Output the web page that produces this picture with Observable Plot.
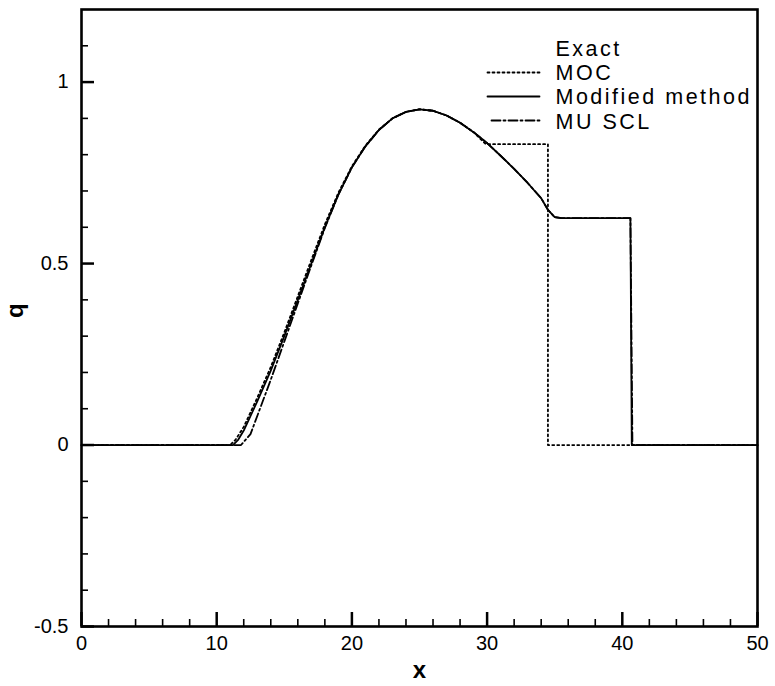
<!DOCTYPE html>
<html><head><meta charset="utf-8">
<script src="https://cdn.jsdelivr.net/npm/d3@7"></script>
<script src="https://cdn.jsdelivr.net/npm/@observablehq/plot@0.6"></script>
<style>
body{margin:0;background:#fff}
</style>
</head><body><div id="chart"></div>
<script>
// ---- tick definitions ----
const xMajorTicks = [0, 10, 20, 30, 40, 50];
const xMinorTicks = [2, 4, 6, 8, 12, 14, 16, 18, 22, 24, 26, 28, 32, 34, 36, 38, 42, 44, 46, 48];
const yMajorTicks = [-0.5, 0, 0.5, 1];
const yMinorTicks = [-0.4, -0.3, -0.2, -0.1, 0.1, 0.2, 0.3, 0.4, 0.6, 0.7, 0.8, 0.9, 1.1];

// ---- series ----
const mocX = [0, 11.0, 11.4, 12, 13, 14, 15, 16, 17, 18, 19, 20, 21, 22, 23, 24, 25, 26, 27, 28, 29, 29.9, 34.5, 34.5, 50];
const mocQ = [0, 0, 0.015, 0.05, 0.13, 0.215, 0.31, 0.41, 0.51, 0.608, 0.695, 0.768, 0.825, 0.869, 0.9, 0.918, 0.925, 0.921, 0.908, 0.888, 0.862, 0.829, 0.829, 0, 0];

const modifiedX = [0, 11.2, 11.6, 12, 13, 14, 15, 16, 17, 18, 19, 20, 21, 22, 23, 24, 25, 26, 27, 28, 29, 30, 31, 32, 33, 34, 34.5, 35, 35.5, 40.6, 40.7, 50];
const modifiedQ = [0, 0, 0.015, 0.04, 0.12, 0.205, 0.3, 0.4, 0.5, 0.6, 0.69, 0.765, 0.823, 0.868, 0.9, 0.918, 0.925, 0.921, 0.908, 0.888, 0.862, 0.832, 0.797, 0.761, 0.722, 0.68, 0.648, 0.628, 0.625, 0.625, 0, 0];

const musclX = [0, 11.8, 12.5, 13, 14, 15, 16, 17, 18, 19, 20, 21, 22, 23, 24, 25, 26, 27, 28, 29, 30, 31, 32, 33, 34, 34.5, 35, 35.5, 40.6, 40.75, 50];
const musclQ = [0, 0, 0.03, 0.08, 0.18, 0.285, 0.39, 0.495, 0.598, 0.69, 0.765, 0.823, 0.868, 0.9, 0.918, 0.925, 0.921, 0.908, 0.888, 0.862, 0.832, 0.797, 0.761, 0.722, 0.68, 0.648, 0.628, 0.625, 0.625, 0, 0];

// ---- legend ----
const legendLabels = ["Exact", "MOC", "Modified method", "MU SCL"];
const legendDash = [null, "2,3", null, "9,3,2,3"];

const FONT = "'Liberation Sans', Arial, Helvetica, sans-serif";
const mL = 81, mT = 9;
const hLine = {draw(ctx, l) { ctx.moveTo(0, 0); ctx.lineTo(l, 0); }};

const legendMarks = [];
legendLabels.forEach((lab, i) => {
  legendMarks.push(Plot.text([lab], {
    text: d => d, frameAnchor: "top-left", dx: 555 - mL, dy: 55 + i * 24.4 - mT,
    textAnchor: "start", lineAnchor: "bottom", fontSize: 21.5, fill: "#000"
  }));
  if (i > 0) {
    legendMarks.push(Plot.vector([lab], {
      frameAnchor: "top-left", dx: (i === 3 ? 491 : 487) - mL, dy: 48 + i * 24 - mT,
      length: i === 3 ? 48 : 52, anchor: "start", rotate: 0, shape: hLine,
      stroke: "#000", strokeWidth: 1.8, strokeDasharray: legendDash[i]
    }));
  }
});

const chart = Plot.plot({
  width: 775, height: 686,
  marginLeft: mL, marginRight: 18, marginTop: mT, marginBottom: 60,
  style: {fontFamily: FONT, background: "#fff", color: "#000", overflow: "visible"},
  x: {domain: [0, 50]},
  y: {domain: [-0.5, 1.2]},
  marks: [
    Plot.line(mocQ, {x: mocX, y: mocQ, stroke: "#000", strokeWidth: 1.8, strokeDasharray: "2,3"}),
    Plot.line(modifiedQ, {x: modifiedX, y: modifiedQ, stroke: "#000", strokeWidth: 1.8}),
    Plot.line(musclQ, {x: musclX, y: musclQ, stroke: "#000", strokeWidth: 1.8, strokeDasharray: "9,3,2,3"}),
    Plot.axisX(xMinorTicks, {tickSize: -7, strokeWidth: 1.6, tickFormat: () => "", label: null}),
    Plot.axisX(xMajorTicks, {tickSize: -14, strokeWidth: 2.5, tickFormat: () => "", label: null}),
    Plot.axisX(xMajorTicks, {tickSize: 0, tickPadding: 9, tickFormat: d => String(d), fontSize: 20, label: null}),
    Plot.axisY(yMinorTicks, {tickSize: -7, strokeWidth: 1.6, tickFormat: () => "", label: null}),
    Plot.axisY(yMajorTicks, {tickSize: -13, strokeWidth: 2.5, tickFormat: () => "", label: null}),
    Plot.axisY(yMajorTicks, {tickSize: 0, tickPadding: 13, tickFormat: d => String(d), fontSize: 20, label: null}),
    Plot.frame({stroke: "#000", strokeWidth: 2.6}),
    Plot.text(["x"], {text: d => d, frameAnchor: "bottom", dy: 44, lineAnchor: "middle", fontSize: 24, fontWeight: "bold"}),
    Plot.text(["q"], {text: d => d, frameAnchor: "left", dx: 15 - mL, rotate: -90, lineAnchor: "middle", fontSize: 24, fontWeight: "bold"}),
    ...legendMarks
  ]
});
d3.select(chart).selectAll("text")
  .filter(function() { return legendLabels.includes(this.textContent); })
  .style("letter-spacing", "2.5px");
document.getElementById("chart").append(chart);
</script>
</body></html>
